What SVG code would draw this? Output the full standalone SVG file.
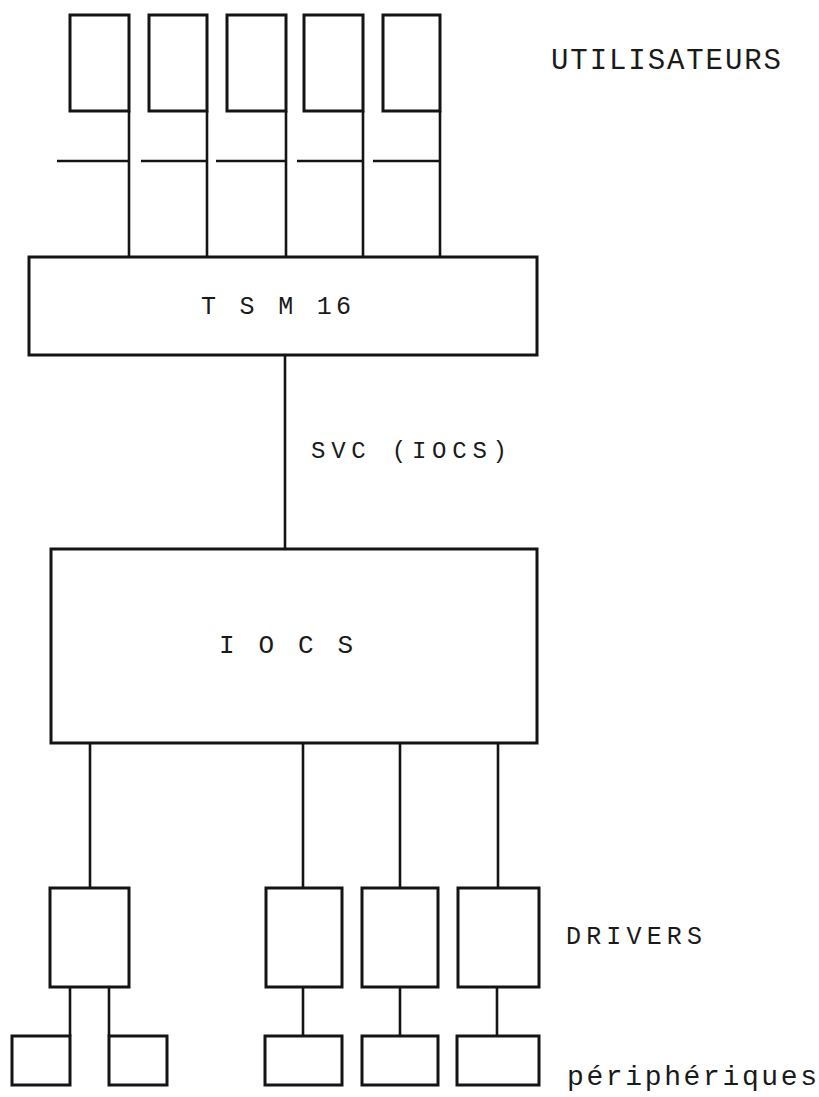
<svg xmlns="http://www.w3.org/2000/svg" width="819" height="1097" viewBox="0 0 819 1097">
<style>
.box{fill:none;stroke:#141414;stroke-width:3}
.ln{fill:none;stroke:#141414;stroke-width:2.6}
.t{font-family:"Liberation Mono","DejaVu Sans Mono",monospace;fill:#1a1a1a}
</style>
<rect width="819" height="1097" fill="#ffffff"/>
<g id="connectors">
<path class="ln" d="M129 111V257M207 111V257M286 111V257M363 111V257M440 111V257"/>
<path class="ln" d="M57 161H129M141 161H207M216 161H286M297 161H363M373 161H440"/>
<path class="ln" d="M285 355V549"/>
<path class="ln" d="M90 743V888M303 743V888M400 743V888M498 743V888"/>
<path class="ln" d="M70 987V1036M109 987V1036M303 987V1036M400 987V1036M497 987V1036"/>
</g>
<g id="user1"><rect class="box" x="70" y="15" width="59" height="96"/></g>
<g id="user2"><rect class="box" x="149" y="15" width="58" height="96"/></g>
<g id="user3"><rect class="box" x="227" y="15" width="59" height="96"/></g>
<g id="user4"><rect class="box" x="304" y="15" width="59" height="96"/></g>
<g id="user5"><rect class="box" x="383" y="15" width="57" height="96"/></g>
<g id="label-utilisateurs"><text class="t" x="551" y="69" font-size="29" textLength="230" lengthAdjust="spacing">UTILISATEURS</text></g>
<g id="tsm16"><rect class="box" x="29" y="257" width="508" height="98"/><text class="t" x="201" y="314" font-size="25" textLength="150" lengthAdjust="spacing">T S M 16</text></g>
<g id="label-svc"><text class="t" x="311" y="458" font-size="24" textLength="196" lengthAdjust="spacing">SVC (IOCS)</text></g>
<g id="iocs"><rect class="box" x="51" y="549" width="486" height="194"/><text class="t" x="219" y="653" font-size="26" textLength="134" lengthAdjust="spacing">I O C S</text></g>
<g id="driver1"><rect class="box" x="50" y="888" width="79" height="99"/></g>
<g id="driver2"><rect class="box" x="266" y="888" width="76" height="99"/></g>
<g id="driver3"><rect class="box" x="362" y="888" width="76" height="99"/></g>
<g id="driver4"><rect class="box" x="458" y="888" width="81" height="99"/></g>
<g id="label-drivers"><text class="t" x="566" y="944" font-size="25" textLength="136" lengthAdjust="spacing">DRIVERS</text></g>
<g id="periph1"><rect class="box" x="12" y="1036" width="58" height="49"/></g>
<g id="periph2"><rect class="box" x="109" y="1036" width="58" height="49"/></g>
<g id="periph3"><rect class="box" x="265" y="1036" width="77" height="49"/></g>
<g id="periph4"><rect class="box" x="362" y="1036" width="76" height="49"/></g>
<g id="periph5"><rect class="box" x="457" y="1036" width="82" height="49"/></g>
<g id="label-peripheriques"><text class="t" x="567" y="1085" font-size="28" textLength="250" lengthAdjust="spacing">périphériques</text></g>
</svg>
